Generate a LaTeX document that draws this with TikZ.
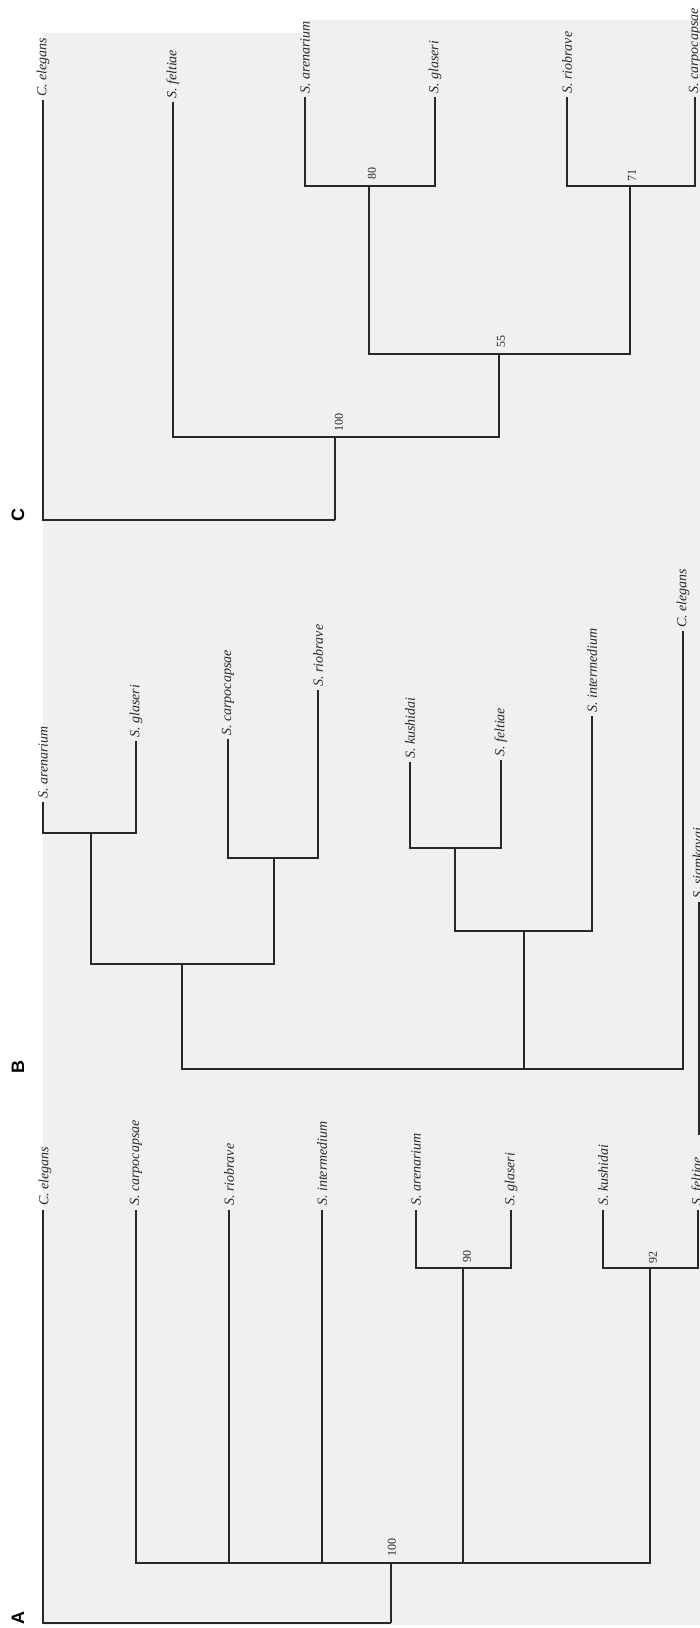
\documentclass[tikz,border=0pt]{standalone}
\usepackage{fontspec}
\setmainfont{Liberation Serif}
\newfontfamily\panelsans{Liberation Sans}
\definecolor{scan}{RGB}{240,240,240}
\definecolor{ink}{RGB}{40,40,40}
\begin{document}
\begin{tikzpicture}[x=1pt,y=-1pt,
  br/.style={line width=1.3pt, draw=ink},
  leaf/.style={rotate=90, anchor=west, inner sep=0pt, text=ink,
    font=\fontsize{14}{16}\selectfont\itshape},
  boot/.style={rotate=90, inner sep=0pt, text=ink,
    font=\fontsize{12}{14}\selectfont},
  panel/.style={rotate=90, inner sep=0pt, text=black,
    font=\fontsize{18}{20}\selectfont\panelsans\bfseries}]
\useasboundingbox (0,0) rectangle (700,1628);
\fill[scan] (43,33) -- (305,33) -- (305,20) -- (700,20) -- (700,1625) -- (43,1625) -- cycle;

% ---------------- Tree C ----------------
\coordinate (tC1) at (43,100);
\coordinate (tC2) at (173,102);
\coordinate (tC3) at (305,97);
\coordinate (tC4) at (435,97);
\coordinate (tC5) at (567,97);
\coordinate (tC6) at (695,97);
\coordinate (nC80) at (369,186);
\coordinate (nC71) at (630,186);
\coordinate (nC55) at (499,354);
\coordinate (nC100) at (335,437);
\coordinate (rC) at (335,520);
\node[leaf] (lC1) at (43,97) {C. elegans};
\node[leaf] (lC2) at (173,99) {S. feltiae};
\node[leaf] (lC3) at (305,94) {S. arenarium};
\node[leaf] (lC4) at (435,94) {S. glaseri};
\node[leaf] (lC5) at (567,94) {S. riobrave};
\node[leaf] (lC6) at (695,94) {S. carpocapsae};
\draw[br] (tC3) |- (nC80) -| (tC4);
\draw[br] (tC5) |- (nC71) -| (tC6);
\draw[br] (nC80) |- (nC55) -| (nC71);
\draw[br] (tC2) |- (nC100);
\draw[br] (nC55) |- (nC100);
\draw[br] (nC100) -- (rC);
\draw[br] (tC1) |- (rC);
\node[boot] (bC80) at (372,173) {80};
\node[boot] (bC71) at (632,175) {71};
\node[boot] (bC55) at (501,341) {55};
\node[boot] (bC100) at (339,422) {100};
\node[panel] (pC) at (18,515) {C};

% ---------------- Tree B ----------------
\coordinate (tB1) at (43,802);
\coordinate (tB2) at (136,741);
\coordinate (tB3) at (228,739);
\coordinate (tB4) at (318,690);
\coordinate (tB5) at (410,762);
\coordinate (tB6) at (501,760);
\coordinate (tB7) at (592,716);
\coordinate (tB8) at (683,631);
\coordinate (nB1) at (91,833);
\coordinate (nB2) at (274,858);
\coordinate (nB3) at (182,964);
\coordinate (nB4) at (455,848);
\coordinate (nB5) at (524,931);
\coordinate (rB) at (524,1069);
\node[leaf] (lB1) at (43,799) {S. arenarium};
\node[leaf] (lB2) at (136,738) {S. glaseri};
\node[leaf] (lB3) at (228,736) {S. carpocapsae};
\node[leaf] (lB4) at (318,687) {S. riobrave};
\node[leaf] (lB5) at (410,759) {S. kushidai};
\node[leaf] (lB6) at (501,757) {S. feltiae};
\node[leaf] (lB7) at (592,713) {S. intermedium};
\node[leaf] (lB8) at (683,628) {C. elegans};
\draw[br] (tB1) |- (nB1) -| (tB2);
\draw[br] (tB3) |- (nB2) -| (tB4);
\draw[br] (nB1) |- (nB3) -| (nB2);
\draw[br] (tB5) |- (nB4) -| (tB6);
\draw[br] (nB4) |- (nB5) -| (tB7);
\draw[br] (nB3) |- (rB);
\draw[br] (nB5) -- (rB);
\draw[br] (tB8) |- (rB);
\node[panel] (pB) at (18,1067) {B};

% partial branch at right edge
\coordinate (tX) at (699,902);
\coordinate (eX) at (699,1135);
\node[leaf] (lX) at (699,899) {S. siamkayai};
\draw[br] (tX) -- (eX);

% ---------------- Tree A ----------------
\coordinate (tA1) at (43,1210);
\coordinate (tA2) at (136,1210);
\coordinate (tA3) at (229,1210);
\coordinate (tA4) at (322,1210);
\coordinate (tA5) at (416,1210);
\coordinate (tA6) at (511,1210);
\coordinate (tA7) at (603,1210);
\coordinate (tA8) at (698,1210);
\coordinate (nA90) at (463,1268);
\coordinate (nA92) at (650,1268);
\coordinate (nA100) at (391,1563);
\coordinate (rA) at (391,1623);
\node[leaf] (lA1) at (45,1206) {C. elegans};
\node[leaf] (lA2) at (136,1206) {S. carpocapsae};
\node[leaf] (lA3) at (229,1206) {S. riobrave};
\node[leaf] (lA4) at (322,1206) {S. intermedium};
\node[leaf] (lA5) at (416,1206) {S. arenarium};
\node[leaf] (lA6) at (511,1206) {S. glaseri};
\node[leaf] (lA7) at (603,1206) {S. kushidai};
\node[leaf] (lA8) at (698,1206) {S. feltiae};
\draw[br] (tA5) |- (nA90) -| (tA6);
\draw[br] (tA7) |- (nA92) -| (tA8);
\draw[br] (tA2) |- (nA100);
\draw[br] (tA3) |- (nA100);
\draw[br] (tA4) |- (nA100);
\draw[br] (nA90) |- (nA100);
\draw[br] (nA92) |- (nA100);
\draw[br] (nA100) -- (rA);
\draw[br] (tA1) |- (rA);
\node[boot] (bA90) at (467,1256) {90};
\node[boot] (bA92) at (653,1257) {92};
\node[boot] (bA100) at (392,1547) {100};
\node[panel] (pA) at (18,1618) {A};
\end{tikzpicture}
\end{document}
